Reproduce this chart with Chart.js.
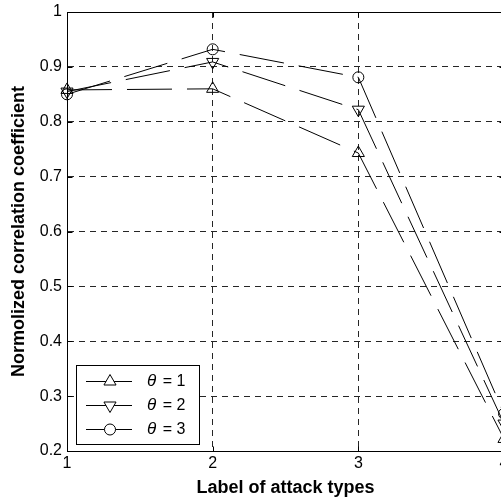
<!DOCTYPE html>
<html><head><meta charset="utf-8">
<script src="https://cdn.jsdelivr.net/npm/chart.js@4.4.1/dist/chart.umd.min.js"></script>
<style>html,body{margin:0;padding:0;overflow:hidden;background:#fff;width:501px;height:502px}canvas{display:block}</style>
</head><body><canvas id="c" width="530" height="502"></canvas>
<script>
// ---- data ----
const categories = [1, 2, 3, 4];
const xTickLabels = ['1', '2', '3', '4'];
const yTickValues = [0.2, 0.3, 0.4, 0.5, 0.6, 0.7, 0.8, 0.9, 1];
const yTickLabels = ['0.2', '0.3', '0.4', '0.5', '0.6', '0.7', '0.8', '0.9', '1'];
const seriesLabels = ['θ = 1', 'θ = 2', 'θ = 3'];
const theta1 = [0.858, 0.860, 0.743, 0.222];
const theta2 = [0.855, 0.909, 0.822, 0.250];
const theta3 = [0.850, 0.932, 0.881, 0.268];
const xTitle = 'Label of attack types';
const yTitle = 'Normolized correlation coefficient';

const FONT = '"Liberation Sans", Arial, Helvetica, sans-serif';
const markerStyles = [
  {pointStyle: 'triangle', radius: 7, rotation: 0},
  {pointStyle: 'triangle', radius: 7, rotation: 180},
  {pointStyle: 'circle', radius: 5.5, rotation: 0}
];
const seriesValues = [theta1, theta2, theta3];

const datasets = seriesValues.map((vals, i) => ({
  label: seriesLabels[i],
  data: categories.map((c, j) => ({x: c, y: vals[j]})),
  borderColor: '#000',
  borderWidth: 1,
  borderDash: [45, 15],
  fill: false,
  tension: 0,
  pointStyle: markerStyles[i].pointStyle,
  pointRadius: markerStyles[i].radius,
  pointRotation: markerStyles[i].rotation,
  pointBorderColor: '#000',
  pointBorderWidth: 1,
  pointBackgroundColor: 'rgba(0,0,0,0)',
  clip: false
}));

const boxPlugin = {
  id: 'boxPlugin',
  afterDraw(chart) {
    const {ctx, chartArea: a, scales} = chart;
    ctx.save();
    ctx.strokeStyle = '#000';
    ctx.lineWidth = 1;
    ctx.setLineDash([]);
    ctx.beginPath();
    const L = Math.round(a.left) + 0.5, R = Math.round(a.right) + 0.5;
    const T = Math.round(a.top) + 0.5, B = Math.round(a.bottom) + 0.5;
    ctx.rect(L, T, R - L, B - T);
    // inward ticks
    categories.forEach(v => {
      const x = Math.round(scales.x.getPixelForValue(v)) + 0.5;
      ctx.moveTo(x, B); ctx.lineTo(x, B - 5);
      ctx.moveTo(x, T); ctx.lineTo(x, T + 5);
    });
    yTickValues.forEach(v => {
      const y = Math.round(scales.y.getPixelForValue(v)) + 0.5;
      ctx.moveTo(L, y); ctx.lineTo(L + 5, y);
      ctx.moveTo(R, y); ctx.lineTo(R - 5, y);
    });
    ctx.stroke();

    // legend
    const lx = 76.5, ly = 365.5, lw = 123, lh = 79;
    ctx.fillStyle = '#fff';
    ctx.fillRect(lx, ly, lw, lh);
    ctx.strokeRect(lx, ly, lw, lh);
    const rows = [381, 405, 429];
    chart.data.datasets.forEach((ds, i) => {
      const y = rows[i] + 0.5;
      ctx.beginPath();
      ctx.setLineDash([]);
      ctx.strokeStyle = '#000';
      ctx.moveTo(86, y); ctx.lineTo(132, y);
      ctx.stroke();
      ctx.fillStyle = '#fff';
      ctx.strokeStyle = '#000';
      Chart.helpers.drawPoint(ctx, {
        pointStyle: ds.pointStyle, radius: ds.pointRadius,
        rotation: ds.pointRotation, borderWidth: 1
      }, 110, y);
      const label = ds.label;
      ctx.fillStyle = '#000';
      ctx.textBaseline = 'middle';
      ctx.textAlign = 'left';
      ctx.font = 'italic 17px ' + FONT;
      const first = label.charAt(0);
      ctx.fillText(first, 147, y);
      const w = ctx.measureText(first).width;
      ctx.font = '16px ' + FONT;
      ctx.fillText(label.slice(1), 147 + w + 2, y);
    });
    ctx.restore();
  }
};

new Chart(document.getElementById('c'), {
  type: 'line',
  data: {datasets},
  options: {
    responsive: false,
    animation: false,
    devicePixelRatio: 1,
    layout: {padding: {left: 0, top: 12, right: 26, bottom: 0}},
    plugins: {legend: {display: false}, tooltip: {enabled: false}},
    scales: {
      x: {
        type: 'linear', min: 1, max: 4,
        afterFit(s) { s.height = 51; s.paddingLeft = 0; s.paddingRight = 0; },
        afterBuildTicks(s) { s.ticks = categories.map(v => ({value: v})); },
        ticks: {
          callback: (v) => xTickLabels[categories.indexOf(v)] ?? '',
          color: '#000', font: {family: FONT, size: 16}, padding: 3, maxRotation: 0
        },
        grid: {color: 'rgba(0,0,0,0.85)', lineWidth: 1, drawTicks: false},
        border: {display: true, color: '#000', width: 1, dash: [6, 5]},
        title: {display: true, text: xTitle, color: '#000',
          font: {family: FONT, size: 18, weight: 'bold'}, padding: {top: 0, bottom: 3}}
      },
      y: {
        type: 'linear', min: 0.2, max: 1,
        afterFit(s) { s.width = 67; s.paddingTop = 0; s.paddingBottom = 0; },
        afterBuildTicks(s) { s.ticks = yTickValues.map(v => ({value: v})); },
        ticks: {
          callback: (v) => yTickLabels[yTickValues.findIndex(t => Math.abs(t - v) < 1e-9)] ?? '',
          color: '#000', font: {family: FONT, size: 16}, padding: 5
        },
        grid: {color: 'rgba(0,0,0,0.85)', lineWidth: 1, drawTicks: false},
        border: {display: true, color: '#000', width: 1, dash: [6, 5]},
        title: {display: true, text: yTitle, color: '#000',
          font: {family: FONT, size: 18, weight: 'bold'}, padding: {top: 8, bottom: 0}}
      }
    }
  },
  plugins: [boxPlugin]
});
</script></body></html>
